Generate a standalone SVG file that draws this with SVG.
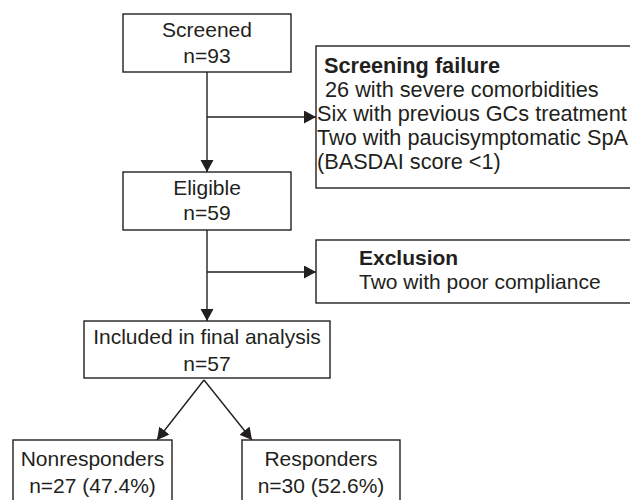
<svg xmlns="http://www.w3.org/2000/svg" width="630" height="500" viewBox="0 0 630 500">
<style>
.box{fill:#fff;stroke:#231f20;stroke-width:1.4}
.t{font-family:"Liberation Sans",Arial,sans-serif;font-size:21px;fill:#231f20}
.s{font-size:21.7px}
.c{text-anchor:middle}
.b{font-weight:bold}
.ln{fill:none;stroke:#231f20;stroke-width:1.4}
</style>
<defs>
<marker id="ah" markerWidth="13" markerHeight="14" refX="12" refY="6.5" orient="auto" markerUnits="userSpaceOnUse">
<path d="M0,0 L12,6.5 L0,13 Z" fill="#231f20"/>
</marker>
</defs>
<rect width="630" height="500" fill="#fff"/>
<g id="connectors">
<line class="ln" x1="207" y1="72" x2="207" y2="172" marker-end="url(#ah)"/>
<line class="ln" x1="207" y1="117" x2="316" y2="117" marker-end="url(#ah)"/>
<line class="ln" x1="207" y1="230" x2="207" y2="321" marker-end="url(#ah)"/>
<line class="ln" x1="207" y1="272" x2="316" y2="272" marker-end="url(#ah)"/>
<line class="ln" x1="204" y1="380" x2="157" y2="440" marker-end="url(#ah)"/>
<line class="ln" x1="204" y1="380" x2="252" y2="440" marker-end="url(#ah)"/>
</g>
<g id="screened">
<rect class="box" x="123" y="14" width="168" height="58"/>
<text class="t c" x="207" y="37">Screened</text>
<text class="t c" x="207" y="63">n=93</text>
</g>
<g id="screening-failure">
<rect class="box" x="316" y="46" width="320" height="142"/>
<text class="t s b" x="324" y="73">Screening failure</text>
<text class="t s" x="325" y="97">26 with severe comorbidities</text>
<text class="t s" x="317" y="121">Six with previous GCs treatment</text>
<text class="t s" x="317" y="145">Two with paucisymptomatic SpA</text>
<text class="t s" x="317" y="169">(BASDAI score &lt;1)</text>
</g>
<g id="eligible">
<rect class="box" x="123" y="172" width="168" height="58"/>
<text class="t c" x="207" y="195">Eligible</text>
<text class="t c" x="207" y="220">n=59</text>
</g>
<g id="exclusion">
<rect class="box" x="316" y="240" width="320" height="63"/>
<text class="t b" x="359" y="265">Exclusion</text>
<text class="t" x="359" y="289">Two with poor compliance</text>
</g>
<g id="included">
<rect class="box" x="84" y="321" width="246" height="57"/>
<text class="t c" x="207" y="344">Included in final analysis</text>
<text class="t c" x="207" y="371">n=57</text>
</g>
<g id="nonresponders">
<rect class="box" x="13" y="440" width="159" height="70"/>
<text class="t c" x="92.5" y="466">Nonresponders</text>
<text class="t c" x="92.5" y="493">n=27 (47.4%)</text>
</g>
<g id="responders">
<rect class="box" x="242" y="440" width="158" height="70"/>
<text class="t c" x="321" y="466">Responders</text>
<text class="t c" x="321" y="493">n=30 (52.6%)</text>
</g>
</svg>
